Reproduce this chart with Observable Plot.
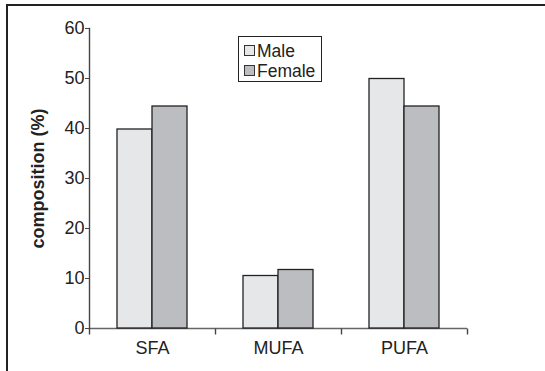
<!DOCTYPE html>
<html><head><meta charset="utf-8">
<script src="https://cdn.jsdelivr.net/npm/d3@7"></script>
<script src="https://cdn.jsdelivr.net/npm/@observablehq/plot@0.6"></script>
<style>
html,body{margin:0;padding:0;background:#fff;overflow:hidden;}
#wrap{position:relative;width:545px;height:371px;overflow:hidden;font-family:"Liberation Sans",Arial,sans-serif;}
#chart svg{display:block;}
#btop{position:absolute;left:6px;top:4px;width:539px;height:2px;background:#222;pointer-events:none;}
#bleft{position:absolute;left:6px;top:4px;width:2px;height:367px;background:#222;pointer-events:none;}
#legend{position:absolute;left:238px;top:36px;width:84px;height:46px;border:1.5px solid #222;box-sizing:border-box;background:#fff;}
.item{position:absolute;left:5px;height:20px;font-size:17.5px;line-height:20px;color:#222;white-space:nowrap;}
.sw{display:inline-block;width:9px;height:9px;border:1.3px solid #333;margin-right:2px;vertical-align:1px;}
</style></head>
<body><div id="wrap"><div id="chart"></div><div id="legend"></div><div id="btop"></div><div id="bleft"></div></div>
<script>
const categories = ["SFA", "MUFA", "PUFA"];
const series = ["Male", "Female"];
const maleValues = [39.8, 10.5, 49.9];
const femaleValues = [44.4, 11.7, 44.4];
const yTicks = [0, 10, 20, 30, 40, 50, 60];
const yLabel = "composition (%)";
const colors = ["#e6e7e8", "#bcbdc0"];

const table = [];
categories.forEach((c, i) => {
  table.push({cat: c, sex: series[0], value: maleValues[i]});
  table.push({cat: c, sex: series[1], value: femaleValues[i]});
});

const tickSymbol = {draw(ctx, size) { ctx.moveTo(0, 0); ctx.lineTo(0, 6); }};

const chart = Plot.plot({
  width: 545, height: 371,
  marginLeft: 88, marginRight: 78, marginTop: 28, marginBottom: 43,
  style: {fontFamily: "'Liberation Sans', Arial, sans-serif", color: "#222", background: "transparent", fontSize: "18px"},
  fx: {domain: categories, padding: 0, axis: null, label: null},
  x: {domain: series, paddingInner: 0, paddingOuter: 0.76, axis: null},
  y: {domain: [0, 60], axis: null},
  color: {domain: series, range: colors},
  marks: [
    Plot.ruleY([0], {stroke: "#666", strokeWidth: 1.6}),
    Plot.barY(table, {fx: "cat", x: "sex", y: "value", fill: "sex", stroke: "#222", strokeWidth: 1.3}),
    Plot.axisFx({anchor: "bottom", tickSize: 0, tickPadding: 13, fontSize: 18, label: null}),
    Plot.dot(categories, {fx: d => d, frameAnchor: "bottom-left", symbol: tickSymbol, fill: "none", stroke: "#444", strokeWidth: 1.4}),
    Plot.dot([categories[categories.length - 1]], {fx: d => d, frameAnchor: "bottom-right", symbol: tickSymbol, fill: "none", stroke: "#444", strokeWidth: 1.4}),
    Plot.frame({anchor: "left", facetAnchor: "left", stroke: "#444", strokeWidth: 1.4}),
    Plot.axisY({anchor: "left", ticks: yTicks, tickSize: 4, tickPadding: 1, fontSize: 18, label: null, stroke: "#444"}),
    Plot.text([yLabel], {fx: () => categories[0], frameAnchor: "left", textAnchor: "middle", lineAnchor: "middle", rotate: -90, dx: -51, fontWeight: "bold", fontSize: 18, fill: "#222"})
  ]
});
document.getElementById("chart").appendChild(chart);

const legend = document.getElementById("legend");
series.forEach((s, i) => {
  const item = document.createElement("div");
  item.className = "item";
  item.style.top = (4 + i * 20) + "px";
  const sw = document.createElement("span");
  sw.className = "sw";
  sw.style.background = colors[i];
  item.appendChild(sw);
  item.appendChild(document.createTextNode(s));
  legend.appendChild(item);
});
</script></body></html>
